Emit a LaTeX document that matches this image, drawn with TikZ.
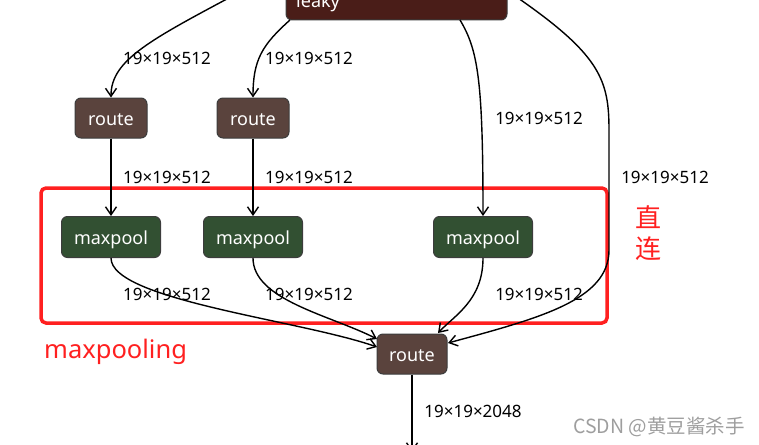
\documentclass[tikz,border=0pt]{standalone}
\usepackage{fontspec}
\setmainfont{Noto Sans}
\newfontfamily\cjk{Noto Sans CJK SC}
\usetikzlibrary{arrows.meta}
\definecolor{routefill}{RGB}{90,67,61}
\definecolor{poolfill}{RGB}{50,80,50}
\definecolor{leakyfill}{RGB}{74,29,24}
\definecolor{nodeborder}{RGB}{60,60,60}
\definecolor{boxred}{RGB}{255,32,32}
\tikzset{
  blk/.style={draw=nodeborder, line width=1pt, rounded corners=6pt, text=white,
    font=\fontsize{18}{20}\selectfont, inner sep=0pt, text height=16.5pt, text depth=1.5pt},
  routebox/.style={blk, fill=routefill, minimum width=72pt, minimum height=40pt},
  poolbox/.style={blk, fill=poolfill, minimum width=99pt, minimum height=41pt},
  edge/.style={line width=1.4pt, -{Straight Barb[length=8pt,width=11pt,line width=1.4pt]}},
  dim/.style={font=\fontsize{17}{19}\selectfont, inner sep=0pt},
}
\begin{document}
\begin{tikzpicture}[x=1pt,y=-1pt]
\useasboundingbox (0,0) rectangle (759,444);
% nodes
\node[draw=nodeborder, line width=1pt, rounded corners=6pt, fill=leakyfill, minimum width=221pt, minimum height=50pt, inner sep=0pt] (leaky) at (396.5,-5) {};
\node[anchor=base west, text=white, font=\fontsize{18}{20}\selectfont, inner sep=0pt] (leakytxt) at (296,8) {leaky};
\node[routebox] (r1) at (111,118) {route};
\node[routebox] (r2) at (253,118) {route};
\node[poolbox] (m1) at (111,237) {maxpool};
\node[poolbox] (m2) at (253,237) {maxpool};
\node[poolbox] (m3) at (483,237) {maxpool};
\node[routebox, minimum width=70pt] (rr) at (412,354) {route};
% free ends
\coordinate (s1) at (240,-8);
\coordinate (s2) at (290,20);
\coordinate (s3) at (460,20);
\coordinate (s4) at (518,-2);
\coordinate (e1) at (377,347);
\coordinate (e2) at (377,339);
\coordinate (e3) at (438,333);
\coordinate (e4) at (448,343);
\coordinate (out) at (412,452);
% red box
\draw[boxred, line width=3.5pt, rounded corners=5pt] (41,188) rectangle (607,323);
% edges
\draw[edge] (s1) .. controls (150,40) and (111,60) .. (r1.north);
\draw[edge] (s2) .. controls (262,45) and (253,60) .. (r2.north);
\draw[edge] (s3) .. controls (478,50) and (483,80) .. (m3.north);
\draw[edge] (s4) .. controls (600,55) and (609,80) .. (609,130) -- (609,250) .. controls (609,300) and (540,318) .. (e4);
\draw[edge] (r1.south) -- (m1.north);
\draw[edge] (r2.south) -- (m2.north);
\draw[edge] (m1.south) .. controls (111,300) and (300,320) .. (e1);
\draw[edge] (m2.south) .. controls (253,300) and (330,315) .. (e2);
\draw[edge] (m3.south) .. controls (483,300) and (455,315) .. (e3);
\draw[edge] (rr.south) -- (out);
% labels
\node[dim] (l1) at (167,58) {19×19×512};
\node[dim] (l2) at (309,58) {19×19×512};
\node[dim] (l3) at (539,118) {19×19×512};
\node[dim] (l4) at (665,177) {19×19×512};
\node[dim] (l5) at (167,177) {19×19×512};
\node[dim] (l6) at (309,177) {19×19×512};
\node[dim] (l7) at (167,294) {19×19×512};
\node[dim] (l8) at (309,294) {19×19×512};
\node[dim] (l9) at (539,294) {19×19×512};
\node[dim] (l10) at (473,411) {19×19×2048};
\node[text=boxred, font=\cjk\fontsize{26}{30}\selectfont, inner sep=0pt] (zhi) at (648,217) {直};
\node[text=boxred, font=\cjk\fontsize{26}{30}\selectfont, inner sep=0pt] (lian) at (648,249) {连};
\node[text=boxred, font=\fontsize{25.5}{28}\selectfont, inner sep=0pt, anchor=west] (mp) at (44,352) {maxpooling};
\node[text=black!38, font=\cjk\fontsize{19.5}{21}\selectfont, inner sep=0pt, anchor=east] (wm) at (745,427) {CSDN @黄豆酱杀手};
\end{tikzpicture}
\end{document}
